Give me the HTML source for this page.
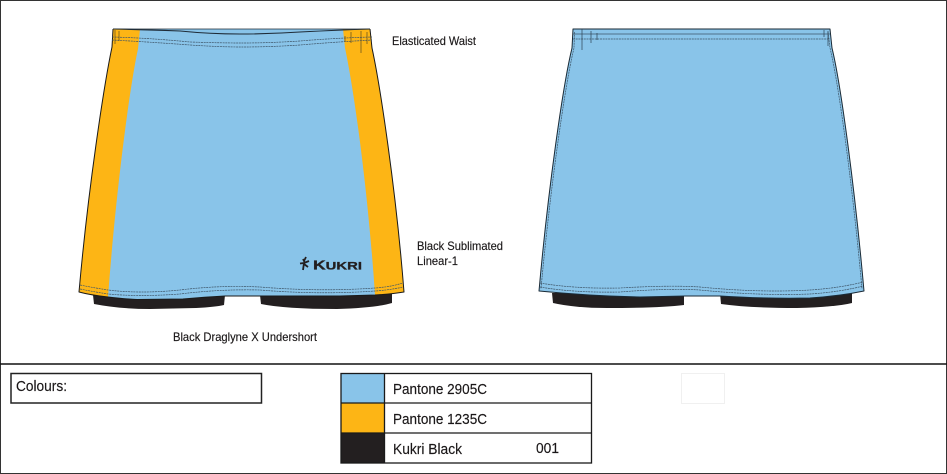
<!DOCTYPE html>
<html><head><meta charset="utf-8"><style>
html,body{margin:0;padding:0;background:#fff}
svg{display:block}
text{font-family:"Liberation Sans",sans-serif;fill:#1a1718;stroke:#1a1718;stroke-width:.15}
</style></head><body>
<svg width="947" height="474" viewBox="0 0 947 474" xmlns="http://www.w3.org/2000/svg">
<rect width="947" height="474" fill="#fff"/>
<rect x="0.5" y="0.5" width="946" height="473" fill="none" stroke="#333" stroke-width="1"/>
<line x1="0" y1="364" x2="947" y2="364" stroke="#111" stroke-width="1.500"/>

<!-- Front undershorts -->
<path d="M93 295 L94 304 Q120 309 150 309 L196 308 Q215 307 224 305 L225 295 Z" fill="#231f20"/>
<path d="M260 295 L261 304 Q285 309 337 309 Q375 308 392 303 L392 293 Z" fill="#231f20"/>
<!-- Front skirt -->
<path d="M113 29 L112 47 C104 85 88 190 79 292 Q90 295 108 297 Q125 299 137 299.500 L183 299 Q205 297 225 296 L260 296 L340 296 L375 295 Q392 294 404 292 C396 190 380 85 372 48 L370 29 Z" fill="#89c4e9"/>
<path d="M113 29 L112 47 C104 85 88 190 79 292 Q90 295 108 297 C116 190 130 85 138 49 L140 29 Z" fill="#fdb515"/>
<path d="M370 29 L372 48 C380 85 396 190 404 292 Q392 294 375 295 C368 190 354 90 345 48 L343 29 Z" fill="#fdb515"/>
<path d="M113 29 L112 47 C104 85 88 190 79 292 Q90 295 108 297 Q125 299 137 299.500 L183 299 Q205 297 225 296 L260 296 L340 296 L375 295 Q392 294 404 292 C396 190 380 85 372 48 L370 29" fill="none" stroke="#1a1a1a" stroke-width="1" stroke-linejoin="round"/>
<path d="M113 29 Q140 29.500 180 31 Q210 34 240 34 Q270 34 300 32 Q340 30 370 29" fill="none" stroke="#1f2c38" stroke-width="1.100"/>
<path d="M113 29 H370" fill="none" stroke="#1f2c38" stroke-width=".8"/>
<path d="M112 37 Q150 38 190 42 Q220 43 242 43 Q270 43 300 41 Q335 38 372 37" fill="none" stroke="#3e5568" stroke-width=".7" stroke-dasharray="2 .7"/>
<path d="M112 40 Q150 42 190 45 Q220 47 242 47 Q270 47 300 45 Q335 42 372 40" fill="none" stroke="#3e5568" stroke-width=".7" stroke-dasharray="2 .7"/>
<path d="M115 30V44M119 31V41M345 36V42M351 32V43M361 31V53M367 32V44" fill="none" stroke="#5a4a20" stroke-width=".7"/>
<path d="M80 285 Q95 288 108 290 Q140 294 180 290 Q220 285 260 287 Q320 292 375 288 Q390 287 403 283" fill="none" stroke="#3e5568" stroke-width=".7" stroke-dasharray="2 .7"/>
<path d="M80 289 Q95 292 108 294 Q140 297 180 294 Q220 289 260 290 Q320 295 375 291 Q390 290 403 287" fill="none" stroke="#3e5568" stroke-width=".7" stroke-dasharray="2 .7"/>
<!-- Logo -->
<path d="M306 257 L304 261 M300 263.500 L304 263 L309 261 M304 263 L303 270 M304 264 L308 267 M303 259 L305 263" fill="none" stroke="#231f20" stroke-width="1.800"/>
<text x="313" y="269.500" font-size="13" font-weight="700" textLength="49" lengthAdjust="spacingAndGlyphs" style="fill:#231f20;stroke:#231f20;stroke-width:.3">K<tspan font-size="11">UKRI</tspan></text>

<!-- Back undershorts -->
<path d="M552 293 L553 303 Q575 308 607 308 Q660 308 684 305 L684 293 Z" fill="#231f20"/>
<path d="M720 293 L721 304 Q750 308 797 308 Q835 307 852 303 L852 293 Z" fill="#231f20"/>
<!-- Back skirt -->
<path d="M573 29 L572 48 C563 85 548 190 539 291 Q590 296 640 297 L685 296 L720 296 Q770 299 810 298 Q840 296 864 291 C855 190 841 85 832 48 L830 29 Z" fill="#89c4e9" stroke="#1a2a36" stroke-width="1" stroke-linejoin="round"/>
<path d="M574.500 32 L574 48 C565 85 550 190 541 289 M828 32 L830 48 C839 85 853 190 862 289" fill="none" stroke="#3e5568" stroke-width=".7" stroke-dasharray="2 .7"/>
<path d="M573 34 H830" fill="none" stroke="#3e5568" stroke-width=".7"/>
<path d="M573 39 H830" fill="none" stroke="#3e5568" stroke-width=".7" stroke-dasharray="2 .7"/>
<path d="M582 29V50M591 31V43M597 33V40M824 30V37M828 31V46" fill="none" stroke="#2d4252" stroke-width=".7"/>
<path d="M540 283 Q575 289 620 288 Q670 285 700 287 Q760 293 810 290 Q840 288 863 282" fill="none" stroke="#3e5568" stroke-width=".7" stroke-dasharray="2 .7"/>
<path d="M540 287 Q575 293 620 292 Q670 288 700 290 Q760 296 810 294 Q840 292 863 286" fill="none" stroke="#3e5568" stroke-width=".7" stroke-dasharray="2 .7"/>

<!-- Labels -->
<text x="392" y="45" font-size="12" textLength="84" lengthAdjust="spacingAndGlyphs">Elasticated Waist</text>
<text x="417" y="250" font-size="12" textLength="86" lengthAdjust="spacingAndGlyphs">Black Sublimated</text>
<text x="417" y="265" font-size="12" textLength="41" lengthAdjust="spacingAndGlyphs">Linear-1</text>
<text x="173" y="341" font-size="12" textLength="144" lengthAdjust="spacingAndGlyphs">Black Draglyne X Undershort</text>

<!-- Colours box -->
<rect x="11" y="373.500" width="250.500" height="29.500" fill="#fff" stroke="#222" stroke-width="1.500"/>
<text x="16" y="391" font-size="14.500" textLength="51" lengthAdjust="spacingAndGlyphs">Colours:</text>

<!-- Colour table -->
<rect x="341" y="373" width="43" height="30" fill="#89c4e9"/>
<rect x="341" y="403" width="43" height="30" fill="#fdb515"/>
<rect x="341" y="433" width="43" height="30" fill="#231f20"/>
<rect x="341" y="373.500" width="250.500" height="89.500" fill="none" stroke="#1a1a1a" stroke-width="1.300"/>
<path d="M341 403H592M341 433H592M384.500 373V463" stroke="#1a1a1a" stroke-width="1.300" fill="none"/>
<text x="393" y="394" font-size="14.500" textLength="94" lengthAdjust="spacingAndGlyphs">Pantone 2905C</text>
<text x="393" y="424" font-size="14.500" textLength="94" lengthAdjust="spacingAndGlyphs">Pantone 1235C</text>
<text x="393" y="454" font-size="14.500" textLength="69" lengthAdjust="spacingAndGlyphs">Kukri Black</text>
<text x="536" y="453" font-size="14.500" textLength="23" lengthAdjust="spacingAndGlyphs">001</text>

<!-- Faint box -->
<rect x="681.500" y="373.500" width="43" height="30" fill="#fff" stroke="#f0f0f0" stroke-width="1"/>
</svg>
</body></html>
